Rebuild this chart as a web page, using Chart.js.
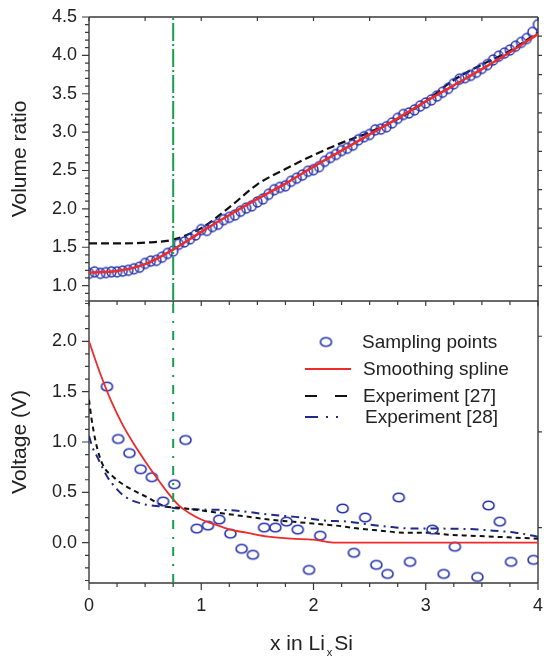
<!DOCTYPE html>
<html>
<head>
<meta charset="utf-8">
<script src="https://cdn.jsdelivr.net/npm/chart.js@4.4.1/dist/chart.umd.min.js"></script>
<style>
  html, body { margin: 0; padding: 0; background: #fff; }
  canvas { display: block; }
</style>
</head>
<body>
<canvas id="c" width="544" height="658"></canvas>
<script>
// ---- values ----
const xTicks = [0, 1, 2, 3, 4];
const volTicks = [1.0, 1.5, 2.0, 2.5, 3.0, 3.5, 4.0, 4.5];
const voltTicks = [0.0, 0.5, 1.0, 1.5, 2.0];
const markerX = 0.75;   // green dash-dot line

// top panel: volume ratio
const volSampleX = [0.00, 0.05, 0.10, 0.15, 0.20, 0.25, 0.30, 0.35, 0.40, 0.45,
  0.50, 0.55, 0.60, 0.65, 0.70, 0.75, 0.80, 0.85, 0.90, 0.95,
  1.00, 1.05, 1.10, 1.15, 1.20, 1.25, 1.30, 1.35, 1.40, 1.45,
  1.50, 1.55, 1.60, 1.65, 1.70, 1.75, 1.80, 1.85, 1.90, 1.95,
  2.00, 2.05, 2.10, 2.15, 2.20, 2.25, 2.30, 2.35, 2.40, 2.45,
  2.50, 2.55, 2.60, 2.65, 2.70, 2.75, 2.80, 2.85, 2.90, 2.95,
  3.00, 3.05, 3.10, 3.15, 3.20, 3.25, 3.30, 3.35, 3.40, 3.45,
  3.50, 3.55, 3.60, 3.65, 3.70, 3.75, 3.80, 3.85, 3.90, 3.95, 4.00];
const volSampleY = [1.16, 1.18, 1.16, 1.17, 1.18, 1.18, 1.19, 1.20, 1.22, 1.24,
  1.29, 1.32, 1.33, 1.37, 1.42, 1.45, 1.54, 1.57, 1.61, 1.66,
  1.73, 1.72, 1.77, 1.80, 1.86, 1.89, 1.92, 1.97, 2.01, 2.04,
  2.09, 2.13, 2.19, 2.25, 2.28, 2.30, 2.36, 2.40, 2.44, 2.49,
  2.51, 2.55, 2.62, 2.67, 2.71, 2.76, 2.79, 2.83, 2.90, 2.94,
  2.97, 3.03, 3.04, 3.07, 3.12, 3.18, 3.23, 3.25, 3.29, 3.34,
  3.38, 3.42, 3.47, 3.52, 3.57, 3.63, 3.69, 3.71, 3.74, 3.78,
  3.83, 3.88, 3.94, 3.99, 4.03, 4.07, 4.12, 4.17, 4.22, 4.30, 4.40];
const volSplineX = [0, 0.25, 0.5, 0.75, 1.0, 1.25, 1.5, 1.75, 2.0, 2.25, 2.5, 2.75, 3.0, 3.25, 3.5, 3.75, 4.0];
const volSplineY = [1.17, 1.19, 1.28, 1.47, 1.70, 1.92, 2.13, 2.33, 2.55, 2.76, 2.97, 3.18, 3.40, 3.61, 3.82, 4.04, 4.28];
const volExpX = [0, 0.25, 0.5, 0.75, 1.0, 1.25, 1.5, 1.75, 2.0, 2.25, 2.5, 2.75, 3.0, 3.25, 3.5, 3.75, 4.0];
const volExpY = [1.55, 1.55, 1.56, 1.60, 1.75, 2.02, 2.32, 2.52, 2.70, 2.86, 3.00, 3.17, 3.40, 3.68, 3.88, 4.06, 4.30];

// bottom panel: voltage
const vSampleX = [0.16, 0.26, 0.36, 0.46, 0.56, 0.66, 0.76, 0.86, 0.96, 1.06, 1.16, 1.26, 1.36, 1.46,
  1.56, 1.66, 1.76, 1.86, 1.96, 2.06, 2.26, 2.36, 2.46, 2.56, 2.66, 2.76, 2.86,
  3.06, 3.16, 3.26, 3.46, 3.56, 3.66, 3.76, 3.96];
const vSampleY = [1.55, 1.03, 0.89, 0.73, 0.65, 0.41, 0.58, 1.02, 0.14, 0.17, 0.23, 0.09, -0.06, -0.12,
  0.15, 0.15, 0.21, 0.13, -0.27, 0.07, 0.34, -0.10, 0.25, -0.22, -0.31, 0.45, -0.19,
  0.13, -0.31, -0.04, -0.34, 0.37, 0.21, -0.19, -0.17];
const vSplineX = [0, 0.1, 0.2, 0.3, 0.4, 0.5, 0.6, 0.7, 0.8, 0.9, 1.0, 1.1, 1.2, 1.3, 1.4, 1.6, 1.8, 2.0, 2.2, 3.0, 4.0];
const vSplineY = [2.00, 1.68, 1.40, 1.17, 0.98, 0.81, 0.65, 0.50, 0.37, 0.29, 0.23, 0.19, 0.15, 0.12, 0.10, 0.06, 0.04, 0.03, 0.00, 0.00, 0.00];
const vExp27X = [0, 0.02, 0.06, 0.12, 0.22, 0.33, 0.43, 0.52, 0.6, 0.68, 0.78, 1.0, 1.2, 1.4, 1.6, 1.8, 2.0, 2.2, 2.4, 2.6, 2.8, 3.0, 3.2, 3.4, 3.6, 3.8, 4.0];
const vExp27Y = [1.42, 1.25, 1.00, 0.78, 0.65, 0.56, 0.50, 0.45, 0.40, 0.36, 0.35, 0.32, 0.29, 0.26, 0.23, 0.21, 0.19, 0.17, 0.14, 0.12, 0.10, 0.10, 0.08, 0.07, 0.06, 0.05, 0.04];
const vExp28X = [0, 0.03, 0.07, 0.16, 0.25, 0.33, 0.5, 0.65, 0.8, 1.0, 1.3, 1.6, 1.9, 2.1, 2.3, 2.5, 2.7, 2.9, 3.1, 3.4, 3.6, 3.8, 4.0];
const vExp28Y = [1.06, 0.95, 0.86, 0.66, 0.53, 0.45, 0.38, 0.36, 0.34, 0.33, 0.32, 0.28, 0.25, 0.22, 0.21, 0.18, 0.155, 0.14, 0.14, 0.135, 0.12, 0.10, 0.06];

const legendLabels = ['Sampling points', 'Smoothing spline', 'Experiment [27]', 'Experiment [28]'];

const BLUE = '#2632ad';
const NAVY = '#1f2a86';
const RED = '#ee2a2a';
const GREEN = '#16a04e';
const INK = '#222222';
const FONT = '"Liberation Sans", Arial, Helvetica, sans-serif';

Chart.defaults.font.family = FONT;

// open ellipse marker (the circles in the figure are slightly squashed)
function ringMarker(w, h, color, lw) {
  const c = document.createElement('canvas');
  c.width = Math.ceil(w + lw + 2);
  c.height = Math.ceil(h + lw + 2);
  const g = c.getContext('2d');
  g.strokeStyle = color;
  g.lineWidth = lw;
  g.beginPath();
  g.ellipse(c.width / 2, c.height / 2, w / 2, h / 2, 0, 0, Math.PI * 2);
  g.stroke();
  return c;
}
const ringTop = ringMarker(9, 10, BLUE, 1.5);
const ringBot = ringMarker(11, 8.6, BLUE, 1.6);

const pts = (xs, ys) => xs.map((x, i) => ({ x: x, y: ys[i] }));

// frame + inward/outward tick marks, like the original plot
const framePlugin = {
  id: 'frame',
  beforeDatasetsDraw(chart) {
    const { ctx } = chart;
    const sx = chart.scales.x, yt = chart.scales.yTop, yb = chart.scales.yBot;
    const L = sx.getPixelForValue(0), R = sx.getPixelForValue(4);
    const T = yt.getPixelForValue(yt.max), M = yt.getPixelForValue(yt.min), B = yb.getPixelForValue(yb.min);
    ctx.save();
    ctx.strokeStyle = '#3a3a3a';
    ctx.lineWidth = 1.4;
    ctx.beginPath();
    ctx.moveTo(L, T); ctx.lineTo(R, T);
    ctx.moveTo(L, M); ctx.lineTo(R, M);
    ctx.moveTo(L, B); ctx.lineTo(R, B);
    ctx.moveTo(L, T); ctx.lineTo(L, B);
    ctx.moveTo(R, T); ctx.lineTo(R, B);
    ctx.stroke();

    ctx.lineWidth = 1.2;
    ctx.beginPath();
    // x ticks
    for (let i = 0; i <= 16; i++) {
      const v = i * 0.25, px = sx.getPixelForValue(v), major = i % 4 === 0;
      ctx.moveTo(px, B); ctx.lineTo(px, B + (major ? 7 : 4));
      ctx.moveTo(px, M); ctx.lineTo(px, M + (major ? 5 : 4));
      if (i % 2 === 0) { ctx.moveTo(px, T); ctx.lineTo(px, T + 4); }
    }
    // top panel y ticks
    for (let i = 8; i <= 45; i++) {
      const py = yt.getPixelForValue(i / 10), major = i % 5 === 0;
      ctx.moveTo(L, py); ctx.lineTo(L - (major ? 7 : 4), py);
    }
    for (let i = 4; i <= 17; i++) {
      const py = yt.getPixelForValue(i * 0.25);
      ctx.moveTo(R, py); ctx.lineTo(R + 4, py);
    }
    // bottom panel y ticks
    for (let i = -3; i <= 19; i++) {
      const py = yb.getPixelForValue(i * 0.125), major = i % 4 === 0;
      ctx.moveTo(L, py); ctx.lineTo(L - (major ? 7 : 4), py);
    }
    [0.15, 1.1, 2.05].forEach(v => {
      const py = yb.getPixelForValue(v);
      ctx.moveTo(R, py); ctx.lineTo(R + 4, py);
    });
    ctx.stroke();
    ctx.restore();
  },
  afterDraw(chart) {
    const { ctx } = chart;
    const sx = chart.scales.x;
    // x axis title with subscript: x in Li_x Si
    ctx.save();
    ctx.fillStyle = INK;
    ctx.textBaseline = 'alphabetic';
    const a = 'x in Li', b = 'Si';
    ctx.font = '11px ' + FONT;
    const wSub = ctx.measureText('x').width;
    ctx.font = '21px ' + FONT;
    const wa = ctx.measureText(a).width, wb = ctx.measureText(b).width;
    const total = wa + 2 + wSub + 2 + wb;
    const x0 = (sx.left + sx.right) / 2 - total / 2 - 2;
    const base = 650;
    ctx.fillText(a, x0, base);
    ctx.font = '11px ' + FONT;
    ctx.fillText('x', x0 + wa + 2, base + 6);
    ctx.font = '21px ' + FONT;
    ctx.fillText(b, x0 + wa + 4 + wSub, base);

    // legend inside the lower panel
    const lx0 = 305, lx1 = 351, tx = 362;
    const rows = [343, 369, 396, 417];
    const ds = chart.data.datasets;
    ctx.font = '19px ' + FONT;
    ctx.textBaseline = 'middle';
    ctx.drawImage(ringBot, (lx0 + lx1) / 2 - 2 - ringBot.width / 2, rows[0] - 1 - ringBot.height / 2);
    ctx.fillText(legendLabels[0], tx, rows[0]);

    const lineRow = (dset, y, dash, label, textX) => {
      ctx.save();
      ctx.strokeStyle = dset.borderColor;
      ctx.lineWidth = dset.borderWidth;
      ctx.setLineDash(dash);
      ctx.beginPath();
      ctx.moveTo(lx0, y); ctx.lineTo(lx1, y);
      ctx.stroke();
      ctx.restore();
      ctx.fillText(label, textX, y + 1);
    };
    const find = lbl => ds.find(d => d.label === lbl && d.yAxisID === 'yBot');
    lineRow(find('Smoothing spline'), rows[1], [], legendLabels[1], tx + 1);
    lineRow(find('Experiment [27]'), rows[2], [12, 18], legendLabels[2], tx + 1);
    lineRow(find('Experiment [28]'), rows[3], [13, 8, 2, 8, 2, 30], legendLabels[3], tx + 3);
    ctx.restore();
  }
};

const yCommon = (ticksArr) => ({
  type: 'linear',
  position: 'left',
  stack: 'panels',
  grid: { display: false, drawTicks: false },
  border: { display: false },
  afterBuildTicks: s => { s.ticks = ticksArr.map(v => ({ value: v })); },
  afterFit: s => { s.width = 89; s.paddingTop = 0; s.paddingBottom = 0; },
  ticks: {
    autoSkip: false,
    padding: 12,
    color: INK,
    font: { size: 18 },
    callback: v => Number(v).toFixed(1)
  }
});

new Chart(document.getElementById('c'), {
  type: 'line',
  data: {
    datasets: [
      { label: 'marker', yAxisID: 'yTop', data: [{ x: markerX, y: 0.8 }, { x: markerX, y: 4.5 }],
        borderColor: GREEN, borderWidth: 2, borderDash: [18, 3, 2, 3], pointRadius: 0, order: 0 },
      { label: 'marker', yAxisID: 'yBot', data: [{ x: markerX, y: -0.4 }, { x: markerX, y: 2.4 }],
        borderColor: GREEN, borderWidth: 2, borderDash: [9, 8, 2, 8], pointRadius: 0, order: 0 },

      { label: 'Smoothing spline', yAxisID: 'yTop', data: pts(volSplineX, volSplineY),
        borderColor: RED, borderWidth: 2.5, pointRadius: 0, cubicInterpolationMode: 'monotone', order: 1 },
      { label: 'Sampling points', yAxisID: 'yTop', data: pts(volSampleX, volSampleY),
        showLine: false, pointStyle: ringTop, pointRadius: 5, order: 2 },
      { label: 'Experiment [27]', yAxisID: 'yTop', data: pts(volExpX, volExpY),
        borderColor: '#111', borderWidth: 2.2, borderDash: [8, 4], pointRadius: 0, cubicInterpolationMode: 'monotone', order: 3 },

      { label: 'Smoothing spline', yAxisID: 'yBot', data: pts(vSplineX, vSplineY),
        borderColor: RED, borderWidth: 1.8, pointRadius: 0, cubicInterpolationMode: 'monotone', order: 1 },
      { label: 'Sampling points', yAxisID: 'yBot', data: pts(vSampleX, vSampleY),
        showLine: false, pointStyle: ringBot, pointRadius: 5, order: 2 },
      { label: 'Experiment [27]', yAxisID: 'yBot', data: pts(vExp27X, vExp27Y),
        borderColor: '#111', borderWidth: 2, borderDash: [5, 4], pointRadius: 0, cubicInterpolationMode: 'monotone', order: 3 },
      { label: 'Experiment [28]', yAxisID: 'yBot', data: pts(vExp28X, vExp28Y),
        borderColor: NAVY, borderWidth: 2, borderDash: [8, 5, 2, 5], pointRadius: 0, cubicInterpolationMode: 'monotone', order: 4 }
    ]
  },
  options: {
    responsive: false,
    animation: false,
    events: [],
    layout: { padding: { top: 17, right: 2.5, left: 0, bottom: 0 } },
    plugins: { legend: { display: false }, tooltip: { enabled: false } },
    scales: {
      x: {
        type: 'linear', min: 0, max: 4,
        grid: { display: false, drawTicks: false },
        border: { display: false },
        afterBuildTicks: s => { s.ticks = xTicks.map(v => ({ value: v })); },
        afterFit: s => { s.height = 75; s.paddingLeft = 0; s.paddingRight = 0; },
        ticks: { autoSkip: false, maxRotation: 0, padding: 12, color: INK, font: { size: 18 }, callback: v => String(v) }
      },
      yBot: Object.assign(yCommon(voltTicks), {
        min: -0.4, max: 2.4, stackWeight: 282,
        title: { display: true, text: 'Voltage (V)', color: INK, font: { size: 21 }, padding: { top: 8, bottom: 0 } }
      }),
      yTop: Object.assign(yCommon(volTicks), {
        min: 0.8, max: 4.5, stackWeight: 284,
        title: { display: true, text: 'Volume ratio', color: INK, font: { size: 21 }, padding: { top: 8, bottom: 0 } }
      })
    }
  },
  plugins: [framePlugin]
});
</script>
</body>
</html>
